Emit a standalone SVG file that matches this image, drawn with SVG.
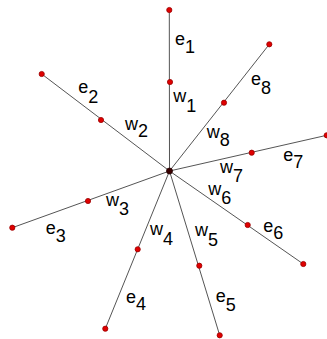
<svg xmlns="http://www.w3.org/2000/svg" width="327" height="339" viewBox="0 0 327 339">
<style>
.edge{stroke:#555;stroke-width:1;fill:none}
.dot{fill:#e00000;stroke:#900;stroke-width:0.8}
.hub{fill:#3a0000;stroke:#200;stroke-width:0.8}
text{font-family:"Liberation Sans",Arial,sans-serif;font-size:18px;fill:#000}
</style>
<rect width="327" height="339" fill="#fff"/>
<g id="connectors">
<line class="edge" x1="169.5" y1="171" x2="169.3" y2="10"/>
<line class="edge" x1="169.5" y1="171" x2="41.7" y2="74"/>
<line class="edge" x1="169.5" y1="171" x2="12.3" y2="227.7"/>
<line class="edge" x1="169.5" y1="171" x2="105.3" y2="328.7"/>
<line class="edge" x1="169.5" y1="171" x2="219.7" y2="335.3"/>
<line class="edge" x1="169.5" y1="171" x2="303.3" y2="264"/>
<line class="edge" x1="169.5" y1="171" x2="326.7" y2="135.3"/>
<line class="edge" x1="169.5" y1="171" x2="269.3" y2="44.3"/>
</g>
<g id="labels">
<text x="175" y="45">e<tspan dy="8.3">1</tspan></text>
<text x="173.3" y="101.7">w<tspan dy="10">1</tspan></text>
<text x="78.3" y="93.3">e<tspan dy="10">2</tspan></text>
<text x="125" y="130">w<tspan dy="6.7">2</tspan></text>
<text x="106" y="206">w<tspan dy="9">3</tspan></text>
<text x="45.7" y="234">e<tspan dy="7.7">3</tspan></text>
<text x="150" y="235">w<tspan dy="10">4</tspan></text>
<text x="126" y="303.3">e<tspan dy="6.7">4</tspan></text>
<text x="195" y="236">w<tspan dy="10">5</tspan></text>
<text x="215.7" y="301.7">e<tspan dy="9">5</tspan></text>
<text x="208.3" y="195">w<tspan dy="9">6</tspan></text>
<text x="263.3" y="231.7">e<tspan dy="7.6">6</tspan></text>
<text x="220" y="173.3">w<tspan dy="8.4">7</tspan></text>
<text x="283.3" y="160.7">e<tspan dy="7.6">7</tspan></text>
<text x="206.7" y="138.3">w<tspan dy="7.7">8</tspan></text>
<text x="251" y="85">e<tspan dy="9">8</tspan></text>
</g>
<g id="hub"><circle class="hub" cx="169.5" cy="171" r="3"/></g>
<g id="e1"><circle class="dot" cx="169.3" cy="10" r="2.6"/></g>
<g id="w1"><circle class="dot" cx="170" cy="82" r="2.6"/></g>
<g id="e2"><circle class="dot" cx="41.7" cy="74" r="2.6"/></g>
<g id="w2"><circle class="dot" cx="101" cy="120" r="2.6"/></g>
<g id="e3"><circle class="dot" cx="12.3" cy="227.7" r="2.6"/></g>
<g id="w3"><circle class="dot" cx="88" cy="201" r="2.6"/></g>
<g id="e4"><circle class="dot" cx="105.3" cy="328.7" r="2.6"/></g>
<g id="w4"><circle class="dot" cx="137.7" cy="249.3" r="2.6"/></g>
<g id="e5"><circle class="dot" cx="219.7" cy="335.3" r="2.6"/></g>
<g id="w5"><circle class="dot" cx="199.3" cy="265.7" r="2.6"/></g>
<g id="e6"><circle class="dot" cx="303.3" cy="264" r="2.6"/></g>
<g id="w6"><circle class="dot" cx="247.7" cy="225" r="2.6"/></g>
<g id="e7"><circle class="dot" cx="326.7" cy="135.3" r="2.6"/></g>
<g id="w7"><circle class="dot" cx="251.7" cy="152.7" r="2.6"/></g>
<g id="e8"><circle class="dot" cx="269.3" cy="44.3" r="2.6"/></g>
<g id="w8"><circle class="dot" cx="224" cy="102.7" r="2.6"/></g>
</svg>
